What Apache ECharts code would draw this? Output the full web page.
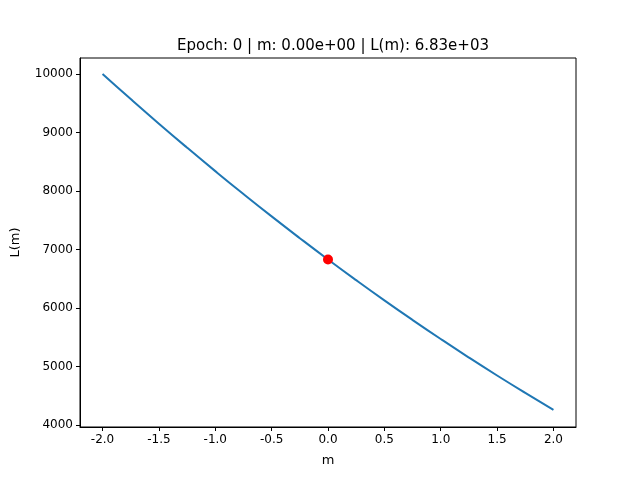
<!DOCTYPE html>
<html>
<head>
<meta charset="utf-8">
<script src="https://cdn.jsdelivr.net/npm/echarts@6/dist/echarts.min.js"></script>
<style>html,body{margin:0;padding:0;background:#fff}#c{width:640px;height:480px}</style>
</head>
<body>
<div id="c"></div>
<script>
// values
const mValues = [-2, -1.75, -1.5, -1.25, -1, -0.75, -0.5, -0.25, 0, 0.25, 0.5, 0.75, 1, 1.25, 1.5, 1.75, 2];
const lossValues = [10000, 9571, 9151, 8741, 8340, 7948, 7566, 7194, 6830, 6476, 6131, 5796, 5470, 5153, 4846, 4549, 4260];
const currentPoint = [0, 6830];
const xTicks = [-2, -1.5, -1, -0.5, 0, 0.5, 1, 1.5, 2];
const yTicks = [4000, 5000, 6000, 7000, 8000, 9000, 10000];

let chart = echarts.init(document.getElementById('c'));
let font = 'DejaVu Sans';
chart.setOption({
    animation: false,
    title: {
        text: 'Epoch: 0 | m: 0.00e+00 | L(m): 6.83e+03',
        left: 328, top: 34, textAlign: 'center',
        textStyle: { fontFamily: font, fontSize: 15, fontWeight: 'normal', color: '#000' }
    },
    grid: { left: 80, right: 64, top: 58, bottom: 53, show: true, borderColor: '#000', borderWidth: 1 },
    xAxis: {
        type: 'value', min: -2.2, max: 2.2,
        name: 'm', nameLocation: 'middle', nameGap: 27,
        nameTextStyle: { fontFamily: font, fontSize: 13, color: '#000' },
        axisLine: { show: true, onZero: false, lineStyle: { color: '#000' } },
        axisTick: { show: true, length: 4, customValues: xTicks, lineStyle: { color: '#000' } },
        axisLabel: { customValues: xTicks, fontFamily: font, fontSize: 12, color: '#000', margin: 7,
            formatter: v => v.toFixed(1) },
        splitLine: { show: false }
    },
    yAxis: {
        type: 'value', min: 3966, max: 10274,
        name: 'L(m)', nameLocation: 'middle', nameGap: 58,
        nameTextStyle: { fontFamily: font, fontSize: 13, color: '#000' },
        axisLine: { show: true, onZero: false, lineStyle: { color: '#000' } },
        axisTick: { show: true, length: 4, customValues: yTicks, lineStyle: { color: '#000' } },
        axisLabel: { customValues: yTicks, fontFamily: font, fontSize: 12, color: '#000', margin: 7,
            formatter: v => String(v) },
        splitLine: { show: false }
    },
    series: [
        {
            type: 'line', smooth: true, symbol: 'none',
            lineStyle: { color: '#1f77b4', width: 2 },
            data: mValues.map((m, i) => [m, lossValues[i]])
        },
        {
            type: 'scatter', symbolSize: 10,
            itemStyle: { color: '#ff0000', opacity: 1 },
            data: [currentPoint], z: 5
        }
    ]
});
</script>
</body>
</html>
